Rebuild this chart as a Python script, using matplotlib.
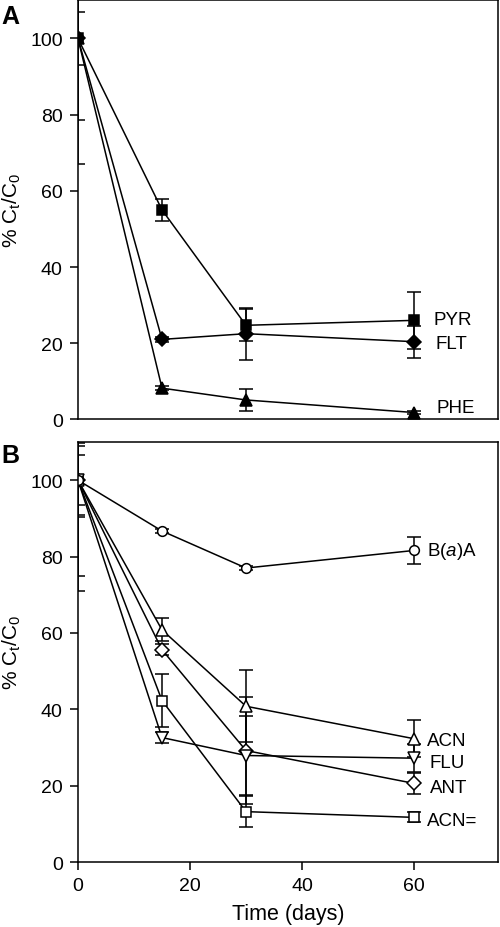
import numpy as np
import matplotlib
matplotlib.use('Agg')
import matplotlib.pyplot as plt

plt.rcParams['font.family'] = ['Liberation Sans', 'DejaVu Sans']
plt.rcParams['mathtext.fontset'] = 'custom'
plt.rcParams['mathtext.rm'] = 'Liberation Sans'
plt.rcParams['mathtext.it'] = 'Liberation Sans:italic'

days = [0, 15, 30, 60]

# Panel A (filled markers)
pyr = [100, 55.0, 24.7, 26.0]
pyr_err = [7.0, 2.8, 4.2, 7.4]
flt = [100, 21.0, 22.5, 20.4]
flt_err = [21.4, 0.7, 6.8, 4.2]
phe = [100, 8.2, 5.1, 1.8]
phe_err = [33.0, 0.5, 2.8, 0.5]

# Panel B (open markers)
baa = [100, 86.7, 77.0, 81.6]
baa_err = [6.5, 0.6, 0.5, 3.5]
acn = [100, 60.8, 40.8, 32.3]
acn_err = [9.0, 3.0, 9.4, 4.9]
flu = [100, 32.6, 27.9, 27.2]
flu_err = [9.7, 1.4, 10.4, 3.7]
ant = [100, 55.6, 29.2, 20.6]
ant_err = [25.0, 1.5, 14.0, 2.8]
acy = [100, 42.3, 13.2, 11.7]
acy_err = [29.0, 7.0, 4.0, 1.3]

fig = plt.figure(figsize=(5, 9.28), dpi=100)
axA = fig.add_axes([0.156, 0.547, 0.84, 0.4515])
axB = fig.add_axes([0.156, 0.070, 0.84, 0.4526])

def draw(ax, y, err, marker, fill, ms):
    ax.errorbar(days, y, yerr=err, fmt='-', marker=marker, color='black', mfc=fill,
                mec='black', ms=ms, lw=1.1, elinewidth=1.1, capsize=4.8, capthick=1.1,
                mew=1.1)

draw(axA, phe, phe_err, '^', 'black', 8)
draw(axA, flt, flt_err, 'D', 'black', 7)
draw(axA, pyr, pyr_err, 's', 'black', 7.5)

draw(axB, acy, acy_err, 's', 'white', 7.5)
draw(axB, ant, ant_err, 'D', 'white', 7.5)
draw(axB, flu, flu_err, 'v', 'white', 9)
draw(axB, acn, acn_err, '^', 'white', 9)
draw(axB, baa, baa_err, 'o', 'white', 7)

fs = 13.5
axA.text(63.5, 26.3, 'PYR', fontsize=fs, va='center')
axA.text(63.8, 20.0, 'FLT', fontsize=fs, va='center')
axA.text(64.0, 3.0, 'PHE', fontsize=fs, va='center')

axB.text(62.3, 81.6, r'B($\mathit{a}$)A', fontsize=fs, va='center')
axB.text(62.3, 31.8, 'ACN', fontsize=fs, va='center')
axB.text(62.8, 26.0, 'FLU', fontsize=fs, va='center')
axB.text(62.8, 19.4, 'ANT', fontsize=fs, va='center')
axB.text(62.3, 10.8, 'ACN=', fontsize=fs, va='center')

for ax in (axA, axB):
    ax.set_xlim(0, 75)
    ax.set_ylim(0, 110)
    ax.set_yticks([0, 20, 40, 60, 80, 100])
    ax.tick_params(axis='both', direction='out', length=6, width=1.1, labelsize=14, pad=5)
    ax.set_ylabel(r'% C$\mathregular{_t}$/C$\mathregular{_0}$', fontsize=15, labelpad=5)
    for s in ax.spines.values():
        s.set_linewidth(1.1)

axA.set_xticks([])
axB.set_xticks([0, 20, 40, 60])
axB.set_xlabel('Time (days)', fontsize=15.5, labelpad=6)

fig.text(0.002, 0.995, 'A', fontsize=18, fontweight='bold', va='top')
fig.text(0.002, 0.522, 'B', fontsize=18, fontweight='bold', va='top')

fig.savefig('out.png', dpi=100)
